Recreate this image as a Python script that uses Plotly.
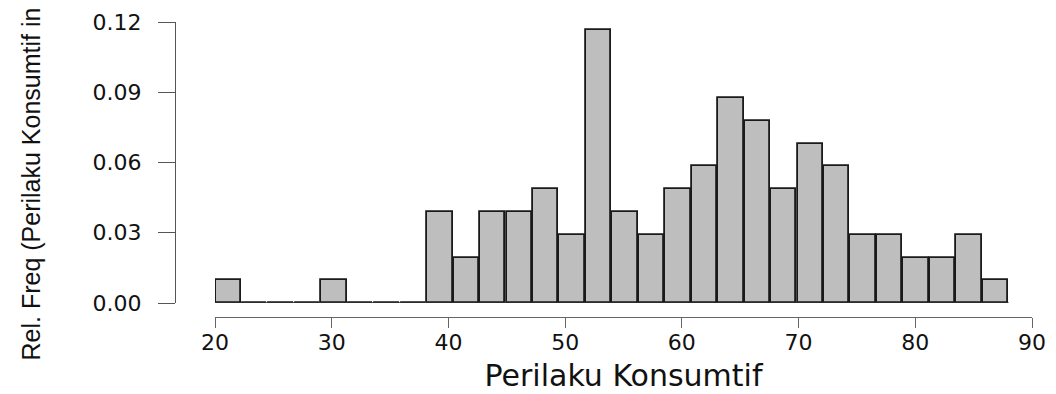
import plotly.graph_objects as go

# ---- data ----
bin_start = 20.0
bin_end = 88.0
rel_freq = [0.0097, 0.0, 0.0, 0.0, 0.0097, 0.0, 0.0, 0.0,
            0.0388, 0.0194, 0.0388, 0.0388, 0.0485, 0.0291, 0.1165,
            0.0388, 0.0291, 0.0485, 0.0583, 0.0874, 0.0777, 0.0485,
            0.0680, 0.0583, 0.0291, 0.0291, 0.0194, 0.0194, 0.0291, 0.0097]
x_ticks = [20, 30, 40, 50, 60, 70, 80, 90]
y_ticks = [0.0, 0.03, 0.06, 0.09, 0.12]
y_tick_labels = ["0.00", "0.03", "0.06", "0.09", "0.12"]
x_title = "Perilaku Konsumtif"
y_title = "Rel. Freq (Perilaku Konsumtif in"

n_bins = len(rel_freq)
bin_w = (bin_end - bin_start) / n_bins
centers = [bin_start + bin_w * (i + 0.5) for i in range(n_bins)]

# the page body adds an 8px offset, so the figure is 8px smaller
W, H = 1048, 386
ML, MR, MT, MB = 167, 24, 14, 77
pw = W - ML - MR
ph = H - MT - MB

fig = go.Figure()
fig.add_trace(go.Scatter(
    x=[bin_start, bin_end], y=[0, 0], mode="lines",
    line=dict(color="#333333", width=1.5), cliponaxis=False,
    hoverinfo="skip", showlegend=False))
fig.add_trace(go.Bar(
    x=centers, y=rel_freq, width=[bin_w * 0.96] * n_bins,
    marker=dict(color="#BEBEBE", line=dict(color="#1a1a1a", width=1.8)),
    cliponaxis=False, showlegend=False))

tick_font = dict(family="DejaVu Sans, Liberation Sans, Arial, sans-serif",
                 size=22, color="#111111")

fig.update_layout(
    width=W, height=H,
    margin=dict(l=ML, r=MR, t=MT, b=MB, pad=0, autoexpand=False),
    paper_bgcolor="white", plot_bgcolor="white",
    bargap=0,
    xaxis=dict(
        domain=[40 / pw, 1.0], range=[20, 90],
        anchor="free", position=0, automargin=False,
        tickmode="array", tickvals=x_ticks,
        ticks="outside", ticklen=10, tickwidth=1, tickcolor="#666666",
        showline=True, linecolor="#666666", linewidth=1,
        showgrid=False, zeroline=False,
        tickfont=tick_font, ticklabelstandoff=-4, ticklabeloverflow="allow",
        title=dict(text=x_title, standoff=10,
                   font=dict(family="DejaVu Sans, Liberation Sans, Arial, sans-serif",
                             size=30, color="#111111")),
    ),
    yaxis=dict(
        domain=[14 / ph, 1.0], range=[0, 0.12],
        anchor="free", position=0, automargin=False,
        tickmode="array", tickvals=y_ticks, ticktext=y_tick_labels,
        ticks="outside", ticklen=17, tickwidth=1, tickcolor="#555555",
        showline=True, linecolor="#555555", linewidth=1,
        showgrid=False, zeroline=False,
        tickfont=tick_font, ticklabelstandoff=12, ticklabeloverflow="allow",
    ),
    annotations=[dict(
        text=y_title, textangle=-90, showarrow=False,
        xref="paper", yref="paper",
        x=(30 - 175) / pw, y=(317 - 363) / ph,
        xanchor="center", yanchor="bottom",
        font=dict(family="Liberation Sans, Arial, sans-serif",
                  size=25, color="#111111"),
    )],
)

fig.write_html("out.html")
